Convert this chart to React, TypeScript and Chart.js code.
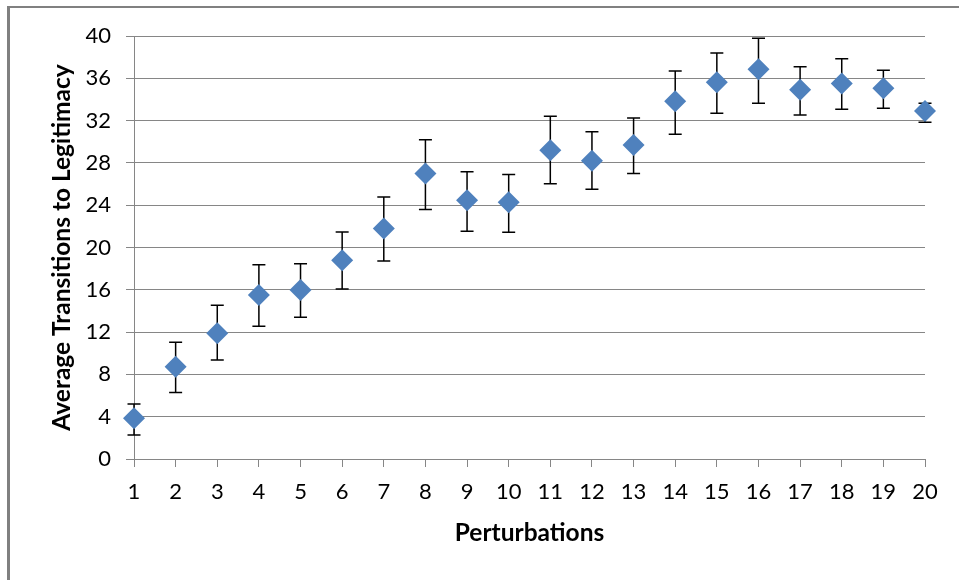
import React, { useEffect, useRef } from 'react';
import { Chart, registerables } from 'chart.js';

Chart.register(...registerables);

const categories = ['1', '2', '3', '4', '5', '6', '7', '8', '9', '10', '11', '12', '13', '14', '15', '16', '17', '18', '19', '20'];
const means = [3.85, 8.73, 11.88, 15.5, 15.98, 18.8, 21.8, 27.0, 24.46, 24.27, 29.19, 28.2, 29.7, 33.82, 35.62, 36.85, 34.92, 35.52, 35.05, 32.9];
const errUpper = [5.2, 11.03, 14.53, 18.38, 18.47, 21.47, 24.78, 30.2, 27.17, 26.9, 32.4, 30.95, 32.25, 36.7, 38.4, 39.78, 37.1, 37.85, 36.75, 33.63];
const errLower = [2.27, 6.3, 9.36, 12.55, 13.4, 16.08, 18.72, 23.6, 21.53, 21.44, 26.03, 25.5, 27.0, 30.7, 32.7, 33.63, 32.53, 33.07, 33.16, 31.84];
const yMin = 0;
const yMax = 40;
const yStep = 4;

const xTitle = 'Perturbations';
const yTitle = 'Average Transitions to Legitimacy';

const FONT = 'Lato';
const GRID = '#868686';

const framePlugin = {
  id: 'frame',
  beforeDraw(chart: any) {
    const ctx = chart.ctx;
    ctx.save();
    ctx.fillStyle = '#ffffff';
    ctx.fillRect(0, 0, chart.width, chart.height);
    ctx.fillStyle = '#808080';
    ctx.fillRect(7, 6, chart.width - 7, 2);
    ctx.fillRect(7, 6, 3, chart.height - 6);
    ctx.restore();
  },
};

const errorBarPlugin = {
  id: 'errorBars',
  beforeDatasetsDraw(chart: any) {
    const ctx = chart.ctx;
    const x = chart.scales.x;
    const y = chart.scales.y;
    ctx.save();
    ctx.strokeStyle = '#000000';
    ctx.lineWidth = 1.5;
    const cap = 6.5;
    for (let i = 0; i < means.length; i++) {
      const px = x.getPixelForValue(i);
      const top = y.getPixelForValue(errUpper[i]);
      const bot = y.getPixelForValue(errLower[i]);
      ctx.beginPath();
      ctx.moveTo(px, top);
      ctx.lineTo(px, bot);
      ctx.moveTo(px - cap, top);
      ctx.lineTo(px + cap, top);
      ctx.moveTo(px - cap, bot);
      ctx.lineTo(px + cap, bot);
      ctx.stroke();
    }
    ctx.restore();
  },
};

export default function App() {
  const canvasRef = useRef<HTMLCanvasElement | null>(null);

  useEffect(() => {
    if (!canvasRef.current) return;
    const chart = new Chart(canvasRef.current, {
      type: 'line',
      data: {
        labels: categories,
        datasets: [
          {
            data: means,
            showLine: false,
            pointStyle: 'rectRot',
            pointRadius: 11,
            pointHoverRadius: 11,
            pointBorderWidth: 0,
            backgroundColor: '#4F81BD',
            borderColor: '#4F81BD',
          },
        ],
      },
      options: {
        animation: false,
        responsive: false,
        events: [],
        layout: { padding: { left: 0, top: 36, right: 34, bottom: 0 } },
        plugins: {
          legend: { display: false },
          tooltip: { enabled: false },
        },
        scales: {
          x: {
            type: 'category',
            offset: false,
            grid: {
              display: true,
              drawOnChartArea: false,
              drawTicks: true,
              tickLength: 8,
              color: GRID,
            },
            border: { display: true, color: GRID, width: 1 },
            ticks: {
              color: '#000000',
              font: { family: FONT, size: 22 },
              padding: 11.5,
              maxRotation: 0,
              autoSkip: false,
            },
            title: {
              display: true,
              text: xTitle,
              color: '#000000',
              font: { family: FONT, size: 24.5, weight: 'bold' },
              padding: { top: 0, bottom: 32.3 },
            },
            afterFit: (s: any) => {
              s.height = 121;
            },
          },
          y: {
            min: yMin,
            max: yMax,
            grid: { color: GRID, tickLength: 8, lineWidth: 1 },
            border: { display: true, color: GRID, width: 1 },
            ticks: {
              stepSize: yStep,
              color: '#000000',
              font: { family: FONT, size: 22 },
              padding: 15,
            },
            title: {
              display: true,
              text: yTitle,
              color: '#000000',
              font: { family: FONT, size: 24.5, weight: 'bold' },
              padding: { top: 47.3, bottom: 0 },
            },
            afterFit: (s: any) => {
              s.width = 134;
            },
          },
        },
      },
      plugins: [framePlugin, errorBarPlugin],
    });
    return () => chart.destroy();
  }, []);

  return (
    <div style={{ position: 'absolute', left: 0, top: 0, width: 959, height: 580 }}>
      <canvas ref={canvasRef} width={959} height={580} style={{ display: 'block', width: 959, height: 580 }} />
    </div>
  );
}
